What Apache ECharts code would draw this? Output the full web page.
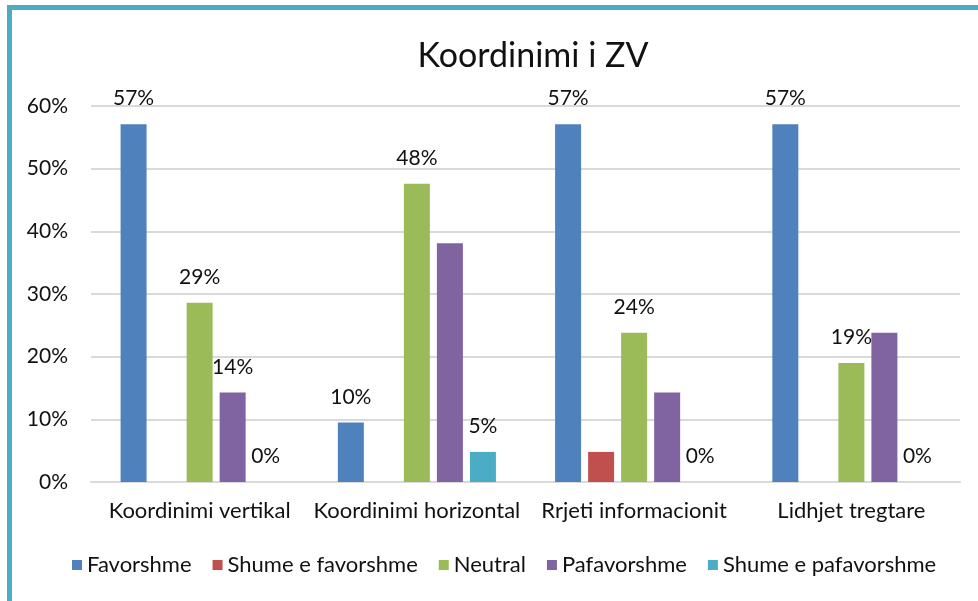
<!DOCTYPE html>
<html>
<head>
<meta charset="utf-8">
<script src="https://cdn.jsdelivr.net/npm/echarts@6/dist/echarts.min.js"></script>
<style>
  html, body { margin: 0; padding: 0; background: #fff; }
  #chart { width: 978px; height: 601px; }
  /* teal frame of the original picture */
  #frame {
    position: absolute; left: 7px; top: 5px; width: 1000px; height: 592px;
    border-left: 5px solid #4BACC6; border-top: 5px solid #4BACC6; border-bottom: 2px solid #4BACC6;
    pointer-events: none;
  }
</style>
</head>
<body>
<div id="chart"></div>
<div id="frame"></div>
<script>
// categories and series (percent)
const categories = ['Koordinimi vertikal', 'Koordinimi horizontal', 'Rrjeti informacionit', 'Lidhjet tregtare'];
const seriesNames = ['Favorshme', 'Shume e favorshme', 'Neutral', 'Pafavorshme', 'Shume e pafavorshme'];
const favorshme = [57.1, 9.5, 57.1, 57.1];
const shumeFavorshme = [0, 0, 4.8, 0];
const neutral = [28.6, 47.6, 23.8, 19.0];
const pafavorshme = [14.3, 38.1, 14.3, 23.8];
const shumePafavorshme = [0, 4.8, 0, 0];
// which data labels are visible in the original
const favLabels = [true, true, true, true];
const shumeFavLabels = [false, false, false, false];
const neutralLabels = [true, true, true, true];
const pafavLabels = [true, false, false, false];
const shumePafLabels = [true, true, true, true];
const yTicks = [0, 10, 20, 30, 40, 50, 60];

const colors = ['#4F81BD', '#C0504D', '#9BBB59', '#8064A2', '#4BACC6'];
const font = 'Lato, "Open Sans", sans-serif';

const chart = echarts.init(document.getElementById('chart'));

function makeSeries(name, values, shown, color) {
    return {
        name: name,
        type: 'bar',
        barWidth: 26,
        barGap: '27%',
        itemStyle: { color: color },
        data: values.map((v, i) => ({
            value: v,
            label: { show: shown[i] }
        })),
        label: {
            position: 'top',
            distance: 15,
            fontSize: 21,
            fontFamily: font,
            color: '#111',
            formatter: p => Math.round(p.value) + '%'
        }
    };
}

const option = {
    animation: false,
    backgroundColor: '#fff',
    title: {
        text: 'Koordinimi i ZV',
        left: 528,
        top: 34,
        textAlign: 'center',
        textStyle: { fontSize: 34, fontWeight: 'normal', color: '#111', fontFamily: font }
    },
    legend: {
        data: seriesNames,
        left: 67,
        top: 549,
        icon: 'rect',
        itemWidth: 10,
        itemHeight: 10,
        itemGap: 21,
        textStyle: { fontSize: 22, color: '#111', fontFamily: font }
    },
    grid: { left: 91, right: 18, top: 106, bottom: 119, containLabel: false },
    xAxis: {
        type: 'category',
        data: categories,
        axisTick: { show: false },
        axisLine: { lineStyle: { color: '#d9d9d9', width: 2 } },
        axisLabel: { interval: 0, fontSize: 22, color: '#111', fontFamily: font, margin: 18 }
    },
    yAxis: {
        type: 'value',
        min: yTicks[0],
        max: yTicks[yTicks.length - 1],
        interval: 10,
        axisLine: { show: false },
        axisTick: { show: false },
        splitLine: { lineStyle: { color: '#d9d9d9', width: 2 } },
        axisLabel: { fontSize: 21, color: '#111', fontFamily: font, margin: 23, formatter: '{value}%' }
    },
    series: [
        makeSeries(seriesNames[0], favorshme, favLabels, colors[0]),
        makeSeries(seriesNames[1], shumeFavorshme, shumeFavLabels, colors[1]),
        makeSeries(seriesNames[2], neutral, neutralLabels, colors[2]),
        makeSeries(seriesNames[3], pafavorshme, pafavLabels, colors[3]),
        makeSeries(seriesNames[4], shumePafavorshme, shumePafLabels, colors[4])
    ]
};
chart.setOption(option);
</script>
</body>
</html>
